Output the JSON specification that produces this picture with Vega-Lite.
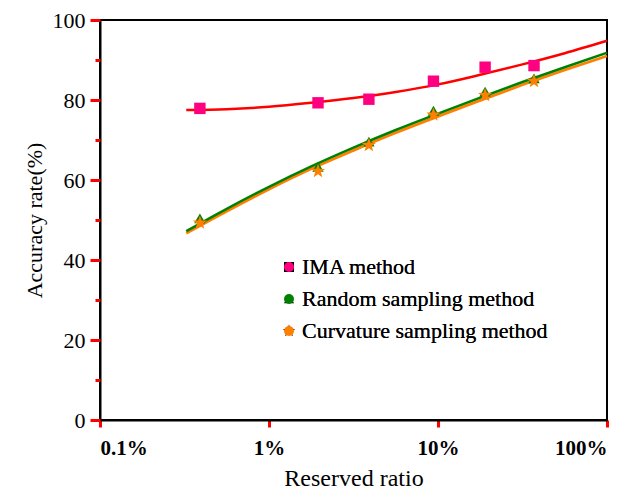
{
  "$schema": "https://vega.github.io/schema/vega-lite/v6.json",
  "autosize": "none",
  "width": 507,
  "height": 400,
  "padding": {"left": 100, "top": 20, "right": 27, "bottom": 76},
  "background": "white",
  "config": {
    "font": "Liberation Serif",
    "view": {"stroke": "black", "strokeWidth": 2},
    "axis": {"grid": false, "ticks": true, "domainColor": "black", "domainWidth": 2, "tickColor": "#FF0000", "tickWidth": 3, "labelColor": "black", "titleColor": "black", "labelFont": "Liberation Serif", "titleFont": "Liberation Serif", "titleFontWeight": "normal"}
  },
  "datasets": {
    "points": [
      {"ratio": 0.39, "acc": 77.9, "series": "IMA method"},
      {"ratio": 1.95, "acc": 79.3, "series": "IMA method"},
      {"ratio": 3.9, "acc": 80.2, "series": "IMA method"},
      {"ratio": 9.4, "acc": 84.7, "series": "IMA method"},
      {"ratio": 19, "acc": 88.2, "series": "IMA method"},
      {"ratio": 37, "acc": 88.6, "series": "IMA method"},
      {"ratio": 0.39, "acc": 50.4, "series": "Random sampling method"},
      {"ratio": 1.95, "acc": 63.3, "series": "Random sampling method"},
      {"ratio": 3.9, "acc": 69.6, "series": "Random sampling method"},
      {"ratio": 9.4, "acc": 77.3, "series": "Random sampling method"},
      {"ratio": 19, "acc": 82.1, "series": "Random sampling method"},
      {"ratio": 37, "acc": 85.4, "series": "Random sampling method"},
      {"ratio": 0.39, "acc": 49.3, "series": "Curvature sampling method"},
      {"ratio": 1.95, "acc": 62.2, "series": "Curvature sampling method"},
      {"ratio": 3.9, "acc": 68.7, "series": "Curvature sampling method"},
      {"ratio": 9.4, "acc": 76.3, "series": "Curvature sampling method"},
      {"ratio": 19, "acc": 81.2, "series": "Curvature sampling method"},
      {"ratio": 37, "acc": 84.7, "series": "Curvature sampling method"}
    ],
    "fits": [
      {"ratio": 0.324, "acc": 77.5, "fit": "IMA"},
      {"ratio": 0.562, "acc": 77.7, "fit": "IMA"},
      {"ratio": 1, "acc": 78.3, "fit": "IMA"},
      {"ratio": 1.778, "acc": 79.3, "fit": "IMA"},
      {"ratio": 3.162, "acc": 80.5, "fit": "IMA"},
      {"ratio": 5.623, "acc": 82.0, "fit": "IMA"},
      {"ratio": 10, "acc": 83.9, "fit": "IMA"},
      {"ratio": 17.78, "acc": 86.3, "fit": "IMA"},
      {"ratio": 31.62, "acc": 88.9, "fit": "IMA"},
      {"ratio": 56.23, "acc": 91.7, "fit": "IMA"},
      {"ratio": 100, "acc": 94.8, "fit": "IMA"},
      {"ratio": 0.324, "acc": 47.2, "fit": "Random"},
      {"ratio": 0.562, "acc": 52.8, "fit": "Random"},
      {"ratio": 1, "acc": 58.3, "fit": "Random"},
      {"ratio": 1.778, "acc": 63.4, "fit": "Random"},
      {"ratio": 3.162, "acc": 68.1, "fit": "Random"},
      {"ratio": 5.623, "acc": 72.5, "fit": "Random"},
      {"ratio": 10, "acc": 76.6, "fit": "Random"},
      {"ratio": 17.78, "acc": 80.6, "fit": "Random"},
      {"ratio": 31.62, "acc": 84.5, "fit": "Random"},
      {"ratio": 56.23, "acc": 88.2, "fit": "Random"},
      {"ratio": 100, "acc": 91.8, "fit": "Random"},
      {"ratio": 0.324, "acc": 46.7, "fit": "Curvature"},
      {"ratio": 0.562, "acc": 52.2, "fit": "Curvature"},
      {"ratio": 1, "acc": 57.7, "fit": "Curvature"},
      {"ratio": 1.778, "acc": 62.8, "fit": "Curvature"},
      {"ratio": 3.162, "acc": 67.4, "fit": "Curvature"},
      {"ratio": 5.623, "acc": 71.8, "fit": "Curvature"},
      {"ratio": 10, "acc": 75.9, "fit": "Curvature"},
      {"ratio": 17.78, "acc": 79.9, "fit": "Curvature"},
      {"ratio": 31.62, "acc": 83.8, "fit": "Curvature"},
      {"ratio": 56.23, "acc": 87.5, "fit": "Curvature"},
      {"ratio": 100, "acc": 91.0, "fit": "Curvature"}
    ]
  },
  "encoding": {
    "x": {"field": "ratio", "type": "quantitative", "scale": {"type": "log", "domain": [0.1, 100]},
      "axis": {"title": "Reserved ratio", "values": [0.1, 1, 10, 100], "labelExpr": "datum.value + '%'", "labelFontSize": 21, "labelFontWeight": "bold", "titleFontSize": 24, "tickSize": 7, "labelPadding": 10, "titlePadding": 8}}
  },
  "layer": [
    {
      "data": {"name": "fits"},
      "transform": [{"filter": "datum.fit !== 'Random'"}],
      "encoding": {
        "y": {"field": "acc", "type": "quantitative", "scale": {"domain": [0, 100]},
          "axis": {"orient": "left", "title": "Accuracy rate(%)", "values": [0, 20, 40, 60, 80, 100], "ticks": false, "labelFontSize": 22, "titleFontSize": 22, "labelPadding": 15, "titlePadding": 6}},
        "color": {"field": "fit", "type": "nominal", "scale": {"domain": ["IMA", "Curvature"], "range": ["#FF0000", "#FF8000"]}, "legend": null},
        "strokeWidth": {"field": "fit", "type": "nominal", "scale": {"domain": ["IMA", "Curvature"], "range": [2.5, 2.8]}, "legend": null}
      },
      "mark": {"type": "line", "interpolate": "monotone"}
    },
    {
      "data": {"name": "fits"},
      "transform": [{"filter": "datum.fit === 'Random'"}],
      "mark": {"type": "line", "interpolate": "monotone", "strokeWidth": 2.5, "color": "#008000"},
      "encoding": {
        "y": {"field": "acc", "type": "quantitative", "scale": {"domain": [0, 100]},
          "axis": {"orient": "left", "title": null, "values": [0, 20, 40, 60, 80, 100], "labels": false, "domain": false, "tickSize": 10}}
      }
    },
    {
      "data": {"name": "points"},
      "mark": {"type": "point", "filled": true, "size": 130, "opacity": 1},
      "encoding": {
        "y": {"field": "acc", "type": "quantitative", "scale": {"domain": [0, 100]},
          "axis": {"orient": "left", "title": null, "values": [10, 30, 50, 70, 90], "labels": false, "domain": false, "tickSize": 5}},
        "color": {"field": "series", "type": "nominal", "sort": null,
          "scale": {"domain": ["IMA method", "Random sampling method", "Curvature sampling method"], "range": ["#FF0080", "#008000", "#FF8000"]},
          "legend": {"title": null, "orient": "none", "legendX": 178, "legendY": 236, "labelFontSize": 22, "labelFont": "Liberation Serif", "labelColor": "black", "labelLimit": 0, "symbolSize": 100, "rowPadding": 10, "labelOffset": 2, "padding": 0}},
        "shape": {"field": "series", "type": "nominal", "sort": null,
          "scale": {"domain": ["IMA method", "Random sampling method", "Curvature sampling method"], "range": ["square", "triangle-up", "M0,-1.3L0.306,-0.421L1.236,-0.402L0.494,0.161L0.764,1.052L0,0.52L-0.764,1.052L-0.494,0.161L-1.236,-0.402L-0.306,-0.421Z"]},
          "legend": {"title": null, "orient": "none", "legendX": 178, "legendY": 236, "labelFontSize": 22, "labelFont": "Liberation Serif", "labelColor": "black", "labelLimit": 0, "symbolSize": 100, "rowPadding": 10, "labelOffset": 2, "padding": 0}}
      }
    }
  ],
  "resolve": {"scale": {"y": "independent", "color": "independent"}, "axis": {"y": "independent"}, "legend": {"color": "independent"}}
}
